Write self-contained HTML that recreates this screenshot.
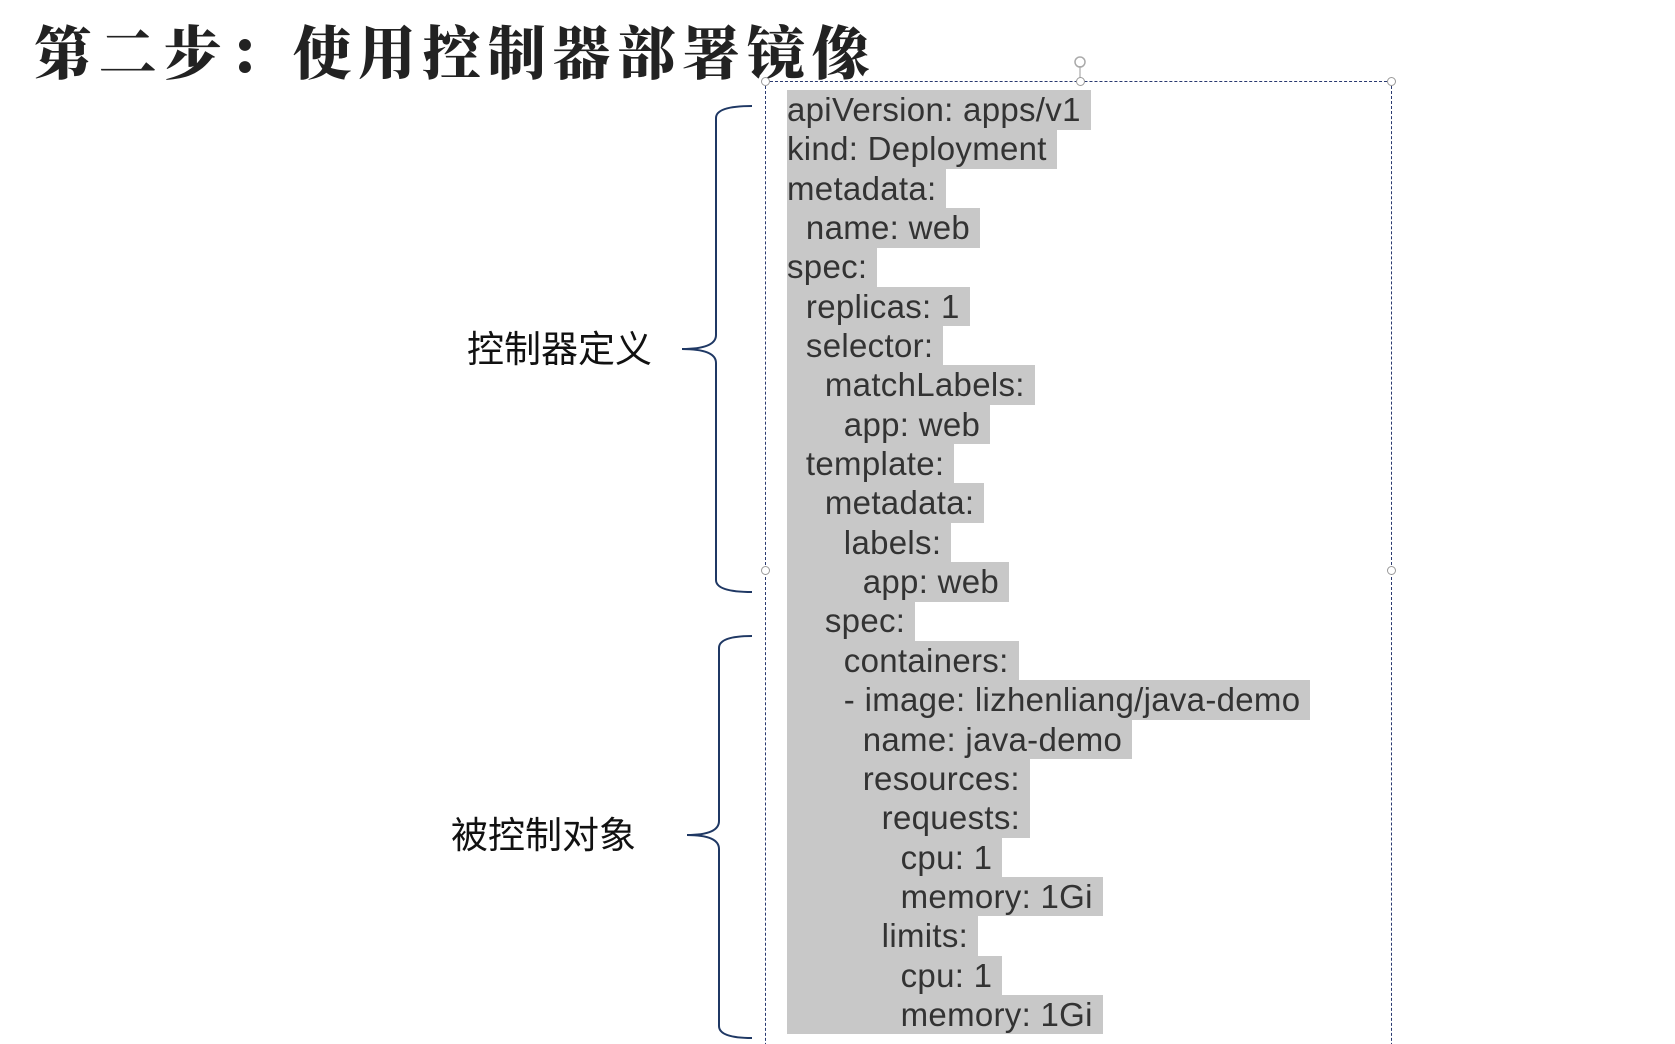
<!DOCTYPE html>
<html><head><meta charset="utf-8"><style>
html,body{margin:0;padding:0;background:#fff;width:1675px;height:1044px;overflow:hidden;position:relative}
.t{position:absolute;left:34px;top:7px;font-family:"Noto Serif CJK SC","WenQuanYi Zen Hei",serif;font-weight:900;font-size:58px;letter-spacing:6.8px;color:#222;white-space:nowrap}
.lbl{position:absolute;font-family:"Liberation Sans","Noto Sans CJK SC",sans-serif;font-size:37px;color:#111;white-space:nowrap;line-height:1}
.box{position:absolute;left:765px;top:81px;width:627px;height:1000px;border:1px dashed #2a3a70;box-sizing:border-box}
.code{position:absolute;left:787px;top:90px;font-family:"Liberation Sans",sans-serif;font-size:33px;color:#333;letter-spacing:0.3px}
.code div{height:39.35px;line-height:39.35px;white-space:pre}
.code span{background:#c8c8c8;display:inline-block;height:39.5px;padding-right:10px}
.h{position:absolute;width:7px;height:7px;border:1px solid #999;border-radius:50%;background:#fff}
</style></head><body>
<div class="t">第二步：使用控制器部署镜像</div>
<div class="lbl" style="left:467px;top:331px">控制器定义</div>
<div class="lbl" style="left:451px;top:817px">被控制对象</div>
<svg style="position:absolute;left:0;top:0" width="1675" height="1044">
<path d="M752 106 Q716 106 716 118 L716 335 Q716 349 682 349 Q716 349 716 363 L716 580 Q716 592 752 592" fill="none" stroke="#1f3864" stroke-width="2"/>
<path d="M752 636 Q719 636 719 648 L719 821 Q719 835 687 835 Q719 835 719 849 L719 1026 Q719 1038 752 1038" fill="none" stroke="#1f3864" stroke-width="2"/>
<line x1="1080" y1="66" x2="1080" y2="81" stroke="#999"/>
<circle cx="1080" cy="62" r="5" fill="none" stroke="#aaa" stroke-width="1.5"/>
</svg>
<div class="box"></div>
<div class="h" style="left:761px;top:77px"></div>
<div class="h" style="left:1076px;top:77px"></div>
<div class="h" style="left:1387px;top:77px"></div>
<div class="h" style="left:761px;top:566px"></div>
<div class="h" style="left:1387px;top:566px"></div>
<div class="code">
<div><span>apiVersion: apps/v1</span></div>
<div><span>kind: Deployment</span></div>
<div><span>metadata:</span></div>
<div><span>  name: web</span></div>
<div><span>spec:</span></div>
<div><span>  replicas: 1</span></div>
<div><span>  selector:</span></div>
<div><span>    matchLabels:</span></div>
<div><span>      app: web</span></div>
<div><span>  template:</span></div>
<div><span>    metadata:</span></div>
<div><span>      labels:</span></div>
<div><span>        app: web</span></div>
<div><span>    spec:</span></div>
<div><span>      containers:</span></div>
<div><span>      - image: lizhenliang/java-demo</span></div>
<div><span>        name: java-demo</span></div>
<div><span>        resources:</span></div>
<div><span>          requests:</span></div>
<div><span>            cpu: 1</span></div>
<div><span>            memory: 1Gi</span></div>
<div><span>          limits:</span></div>
<div><span>            cpu: 1</span></div>
<div><span>            memory: 1Gi</span></div>
</div>
</body></html>
